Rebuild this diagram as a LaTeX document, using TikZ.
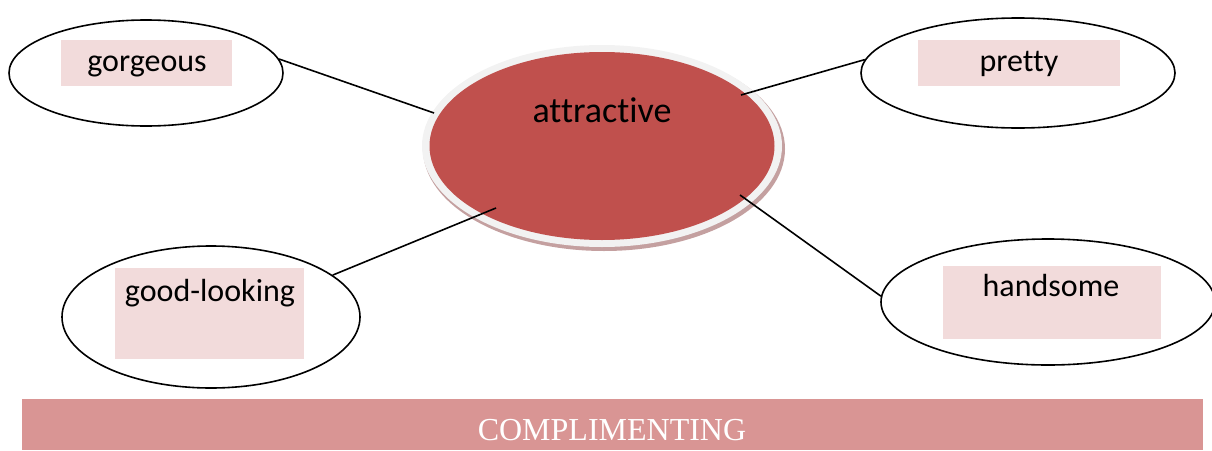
\documentclass[tikz,border=0pt]{standalone}
\usepackage{fontspec}
\setmainfont{Carlito}[Ligatures=CommonOff]
\newfontfamily\barfont{Liberation Serif}
\usetikzlibrary{shapes.geometric}
\definecolor{centerred}{HTML}{C0504D}
\definecolor{rimgray}{HTML}{F2F2F2}
\definecolor{rimshadow}{HTML}{C4A0A0}
\definecolor{boxpink}{HTML}{F2DBDB}
\definecolor{barpink}{HTML}{D99594}
\tikzset{
  x=1pt, y=-1pt,
  bubble/.style={ellipse, draw=black, line width=1.6pt, fill=white, inner sep=0pt},
  tbox/.style={rectangle, fill=boxpink, draw=none, inner sep=0pt},
  lbl/.style={anchor=base, inner sep=0pt, font=\fontsize{32}{38}\selectfont},
  link/.style={draw=black, line width=1.6pt},
}
\begin{document}
\begin{tikzpicture}
\useasboundingbox (0,0) rectangle (1212,450);
% central ellipse with rim and shadow
\node[ellipse, fill=rimshadow, minimum width=362pt, minimum height=204pt, inner sep=0pt] (attshadow) at (604,149) {};
\node[ellipse, fill=rimgray, minimum width=360pt, minimum height=202pt, inner sep=0pt] (attrim) at (602,146) {};
\node[ellipse, fill=centerred, minimum width=345pt, minimum height=188pt, inner sep=0pt] (att) at (602,146) {};
\node[lbl, font=\fontsize{36}{42}\selectfont] (atttext) at (602,122) {attractive};
% outer bubbles
\node[bubble, minimum width=274pt, minimum height=106pt] (gor) at (146,73) {};
\node[bubble, minimum width=314pt, minimum height=110pt] (pre) at (1018,73) {};
\node[bubble, minimum width=298pt, minimum height=142pt] (goo) at (211,317) {};
\node[bubble, minimum width=334pt, minimum height=126pt] (han) at (1048,302) {};
% text boxes
\node[tbox, minimum width=171pt, minimum height=46pt] (gorbox) at (146.5,63) {};
\node[tbox, minimum width=202pt, minimum height=46pt] (prebox) at (1019,63) {};
\node[tbox, minimum width=189pt, minimum height=91pt] (goobox) at (209.5,313.5) {};
\node[tbox, minimum width=218pt, minimum height=73pt] (hanbox) at (1052,302.5) {};
\node[lbl] (gortext) at (147,71) {gorgeous};
\node[lbl] (pretext) at (1019,71) {pretty};
\node[lbl] (gootext) at (210,301) {good-looking};
\node[lbl] (hantext) at (1051,296) {handsome};
% connector ends inside the central ellipse
\coordinate (cg) at (434,113);
\coordinate (cp) at (741,95);
\coordinate (cl) at (496,208);
\coordinate (ch) at (740,195);
\draw[link] (gor.6) -- (cg);
\draw[link] (pre.175) -- (cp);
\draw[link] (goo.19) -- (cl);
\draw[link] (han.178) -- (ch);
% bottom bar
\node[rectangle, fill=barpink, inner sep=0pt, minimum width=1181pt, minimum height=51pt] (bar) at (612.5,424.5) {};
\node[anchor=base, inner sep=0pt, text=white, font=\barfont\fontsize{32}{38}\selectfont] (bartext) at (612,440) {COMPLIMENTING};
\end{tikzpicture}
\end{document}
